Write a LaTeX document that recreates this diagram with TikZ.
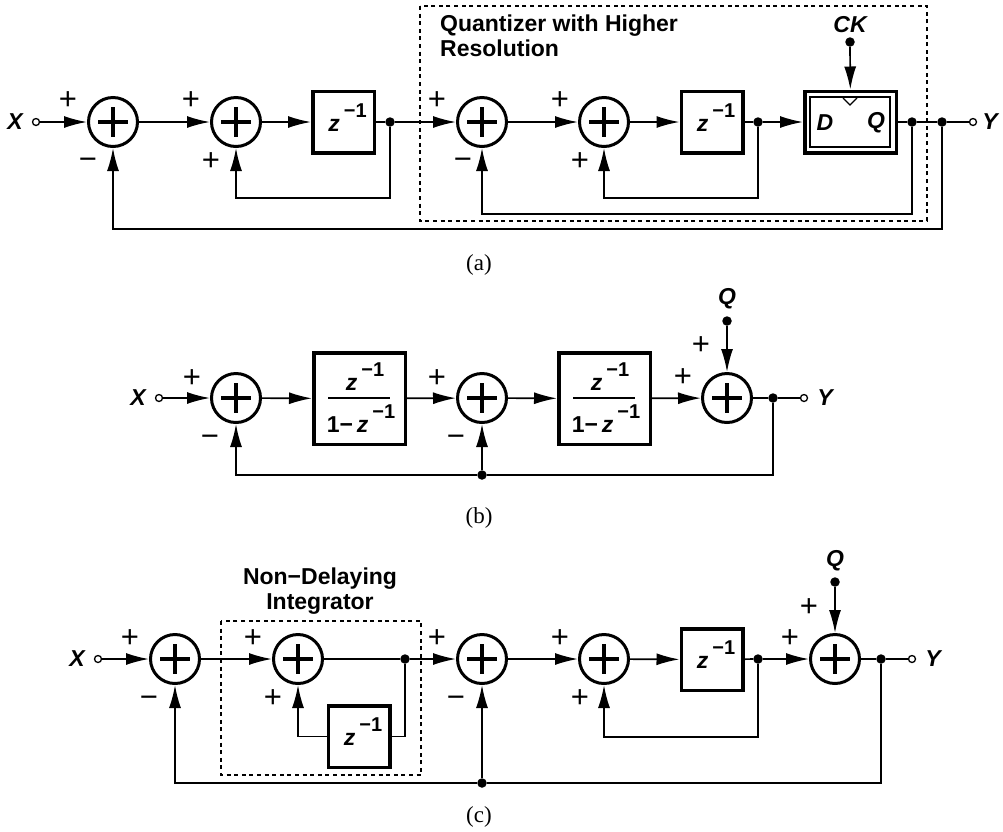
\documentclass[tikz,border=0pt]{standalone}
\usepackage{fontspec}
\setmainfont{Liberation Sans}
\newfontfamily\capfont{Liberation Serif}
\usetikzlibrary{arrows.meta}

\newcommand{\zinv}{{\fontsize{23}{23}\selectfont\bfseries\itshape z}\kern4pt\raisebox{14pt}{\fontsize{20}{20}\selectfont\bfseries −1}}

\begin{document}
\begin{tikzpicture}[
            x=1pt, y=-1pt,
            >={Latex[length=23pt,width=12pt]},
            wire/.style={line width=1.7pt},
            feed/.style={wire, ->},
            summer/.style={
                circle, draw, line width=3pt, minimum size=49pt, inner sep=0pt,
                path picture={
                    \draw[line width=3.4pt] (path picture bounding box.center) ++(-15,0) -- ++(30,0) ++(-15,-15) -- ++(0,30);
                }
            },
            delaybox/.style={draw, line width=3.5pt, minimum size=61.5pt, inner sep=0pt},
            fracbox/.style={draw, line width=3.5pt, minimum width=91.5pt, minimum height=91.5pt, inner sep=0pt},
            dff/.style={draw, line width=3.5pt, minimum width=91.5pt, minimum height=61.5pt, inner sep=0pt},
            solder/.style={circle, fill, minimum size=9.5pt, inner sep=0pt},
            port/.style={circle, draw, fill=white, line width=1.3pt, minimum size=7pt, inner sep=0pt},
            var/.style={font=\fontsize{23}{23}\selectfont\bfseries\itshape, inner sep=0pt},
            ztext/.style={anchor=base, inner sep=0pt},
            signmark/.style={font=\fontsize{31}{31}\selectfont, inner sep=0pt},
            title/.style={font=\fontsize{23}{25}\selectfont\bfseries, inner sep=0pt},
            caption/.style={font=\capfont\fontsize{23}{23}\selectfont, inner sep=0pt},
            dashbox/.style={line width=1.5pt, dash pattern=on 4pt off 3.6pt}
        ]
            \useasboundingbox (0,0) rectangle (1003,831);

            % (a) First row
            \node[var] (aX) at (15,122) {X};
            \node[port] (ain) at (36,122) {};
            \node[summer] (as1) at (113,122) {};
            \node[summer] (as2) at (236,122) {};
            \node[delaybox] (az1) at (343.5,122) {\hspace{8pt}\zinv\rule[-9pt]{0pt}{1pt}};
            \node[solder] (ad1) at (390,122) {};
            \node[summer] (as3) at (482,122) {};
            \node[summer] (as4) at (604,122) {};
            \node[delaybox] (az2) at (712,122) {\hspace{8pt}\zinv\rule[-9pt]{0pt}{1pt}};
            \node[solder] (ad2) at (758,122) {};
            \node[dff] (aff) at (850.5,122) {};
            \node[solder] (ad3) at (912,122) {};
            \node[solder] (ad4) at (942,122) {};
            \node[port] (aout) at (973,122) {};
            \node[var] (aY) at (990,122) {Y};
            \node[var] (aCK) at (850,25) {CK};
            \node[solder] (ack) at (850,42) {};
            \node[var] (aD) at (825,123) {D};
            \node[var] (aQ) at (876,123) {Q};

            % Flip-flop inner frame and clock mark
            \draw[line width=1.3pt] (810,97) rectangle (890,147);
            \draw[line width=1.3pt] (843,98) -- (850,105) -- (857,98);

            \draw[feed] (ain) -- (as1);
            \draw[feed] (as1) -- (as2);
            \draw[feed] (as2) -- (az1);
            \draw[wire] (az1) -- (ad1);
            \draw[feed] (ad1) -- (as3);
            \draw[feed] (as3) -- (as4);
            \draw[feed] (as4) -- (az2);
            \draw[wire] (az2) -- (ad2);
            \draw[feed] (ad2) -- (aff);
            \draw[wire] (aff) -- (ad3) -- (ad4) -- (aout);
            \draw[feed] (ack) -- (aff);

            % Feedback paths, inner to outer
            \coordinate (al1) at (236,198);
            \coordinate (al2) at (604,198);
            \coordinate (al3) at (482,214);
            \coordinate (al4) at (113,229);
            \draw[feed] (ad1) |- (al1) -- (as2);
            \draw[feed] (ad2) |- (al2) -- (as4);
            \draw[feed] (ad3) |- (al3) -- (as3);
            \draw[feed] (ad4) |- (al4) -- (as1);

            \draw[dashbox] (420,6) rectangle (927,221);
            \node[title, align=left, anchor=north west] (aqt) at (440,15) {Quantizer with Higher\\Resolution};
            \node[caption] (acap) at (479,265) {(a)};

            % (b) Second row
            \node[var] (bX) at (138,398) {X};
            \node[port] (bin) at (159,398) {};
            \node[summer] (bs1) at (236,398) {};
            \node[fracbox] (bf1) at (359.5,398.5) {};
            \node[summer] (bs2) at (482,398) {};
            \node[fracbox] (bf2) at (604.5,398.5) {};
            \node[summer] (bs3) at (727,398) {};
            \node[solder] (bd1) at (773,398) {};
            \node[port] (bout) at (804,398) {};
            \node[var] (bY) at (825,398) {Y};
            \node[var] (bQ) at (727,299) {Q};
            \node[solder] (bq) at (727,321) {};
            \node[solder] (bd2) at (482,475) {};

            % Fractions
            \foreach \fx/\fn in {359/a, 604/b} {
                \node[ztext] (bt\fn) at (\fx+6,390) {\zinv};
                \node[ztext] (bb\fn) at (\fx+2,432) {\fontsize{23}{23}\selectfont\bfseries 1−\,\zinv};
                \draw[wire] (\fx-31,398) -- (\fx+31,398);
            }

            \draw[feed] (bin) -- (bs1);
            \draw[feed] (bs1) -- (bf1);
            \draw[feed] (bf1) -- (bs2);
            \draw[feed] (bs2) -- (bf2);
            \draw[feed] (bf2) -- (bs3);
            \draw[wire] (bs3) -- (bd1) -- (bout);
            \draw[feed] (bq) -- (bs3);
            \draw[wire] (bd1) |- (bd2);
            \draw[feed] (bd2) -| (bs1);
            \draw[feed] (bd2) -- (bs2);
            \node[caption] (bcap) at (479,518) {(b)};

            % (c) Third row
            \node[var] (cX) at (77,659) {X};
            \node[port] (cin) at (98,659) {};
            \node[summer] (cs1) at (175,659) {};
            \node[summer] (cs2) at (298,659) {};
            \node[solder] (cd1) at (405,659) {};
            \node[delaybox] (cz1) at (359,736.5) {\hspace{8pt}\zinv\rule[-9pt]{0pt}{1pt}};
            \node[summer] (cs3) at (482,659) {};
            \node[summer] (cs4) at (604,659) {};
            \node[delaybox] (cz2) at (712,659.5) {\hspace{8pt}\zinv\rule[-9pt]{0pt}{1pt}};
            \node[solder] (cd2) at (758,659) {};
            \node[summer] (cs5) at (835,659) {};
            \node[solder] (cd3) at (881,659) {};
            \node[port] (cout) at (912,659) {};
            \node[var] (cY) at (933,659) {Y};
            \node[var] (cQ) at (835,561) {Q};
            \node[solder] (cq) at (835,582) {};
            \node[solder] (cd4) at (482,783) {};

            \draw[feed] (cin) -- (cs1);
            \draw[feed] (cs1) -- (cs2);
            \draw[wire] (cs2) -- (cd1);
            \draw[feed] (cd1) -- (cs3);
            \draw[feed] (cs3) -- (cs4);
            \draw[feed] (cs4) -- (cz2);
            \draw[wire] (cz2) -- (cd2);
            \draw[feed] (cd2) -- (cs5);
            \draw[wire] (cs5) -- (cd3) -- (cout);
            \draw[feed] (cq) -- (cs5);

            % Integrator and feedback paths
            \draw[wire] (cd1) |- (cz1);
            \draw[feed] (cz1) -| (cs2);
            \coordinate (cl1) at (604,737);
            \draw[feed] (cd2) |- (cl1) -- (cs4);
            \draw[wire] (cd3) |- (cd4);
            \draw[feed] (cd4) -| (cs1);
            \draw[feed] (cd4) -- (cs3);

            \draw[dashbox] (221,621) rectangle (421,775);
            \node[title, align=center] (cnt) at (320,591.5) {Non−Delaying\\Integrator};
            \node[caption] (ccap) at (479,817) {(c)};

            % Signs
            \foreach \px/\py [count=\i] in {68/99, 191/99, 211/160, 437/99, 560/99, 580/160,
                    192/377, 437/377, 683/376, 701/344,
                    130/637, 253/637, 273/697, 437/637, 560/637, 580/697, 790/637, 809/606}
                \node[signmark, yshift=-2pt] (plus\i) at (\px,\py) {+};
            \foreach \px/\py [count=\i] in {88/160, 463/160, 210/437, 456/437, 149/698, 456/698}
                \node[signmark, yshift=-4pt] (minus\i) at (\px,\py) {−};

        \end{tikzpicture}
\end{document}
